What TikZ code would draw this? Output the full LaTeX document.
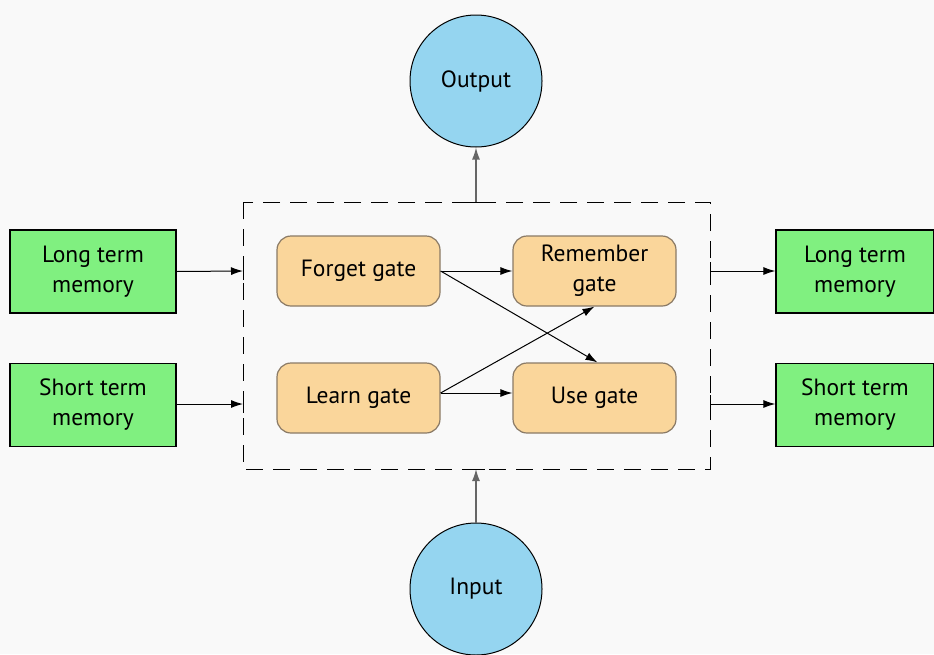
\documentclass[tikz,border=0pt]{standalone}
\usepackage{fontspec}
\setmainfont{PT Sans}
\usetikzlibrary{arrows.meta}
\definecolor{bgc}{HTML}{F9F9F9}
\definecolor{memc}{HTML}{80F080}
\definecolor{ioc}{HTML}{95D5F0}
\definecolor{gatec}{HTML}{FAD69B}
\definecolor{gateb}{HTML}{8A7A66}
\begin{document}
\begin{tikzpicture}[x=1pt,y=-1pt,
  every node/.style={font=\fontsize{23.5}{30}\selectfont, align=center, inner sep=0pt},
  mem/.style={draw=black, line width=1.2pt, fill=memc, minimum height=83pt},
  io/.style={circle, draw=black, line width=1pt, fill=ioc, minimum size=132pt},
  gate/.style={draw=gateb, line width=1.2pt, fill=gatec, rounded corners=14pt, minimum width=163pt, minimum height=70pt},
  arr/.style={-{Latex[length=12pt,width=8pt]}, line width=1pt, black},
  varr/.style={-{Latex[length=12pt,width=8pt]}, line width=1.3pt, black!60},
  tick/.style={line width=0.9pt, black}]
\useasboundingbox (0,0) rectangle (934,654);
\fill[bgc] (0,0) rectangle (934,654);

% lstm cell frame
\draw[dash pattern=on 17pt off 10pt, line width=0.9pt] (243,202) rectangle (710,469);
\coordinate (lin1) at (243,271);
\coordinate (lin2) at (243,404);
\coordinate (rout1) at (710,271);
\coordinate (rout2) at (710,404);
\coordinate (topc) at (476,202);
\coordinate (botc) at (476,469);

% memory boxes
\node[mem, minimum width=166pt] (ltmL) at (93,271.5) {Long term\\memory};
\node[mem, minimum width=166pt] (stmL) at (93,405) {Short term\\memory};
\node[mem, minimum width=158pt] (ltmR) at (855,271.5) {Long term\\memory};
\node[mem, minimum width=158pt] (stmR) at (855,405) {Short term\\memory};

% input / output
\node[io] (out) at (476,81) {Output};
\node[io] (in) at (476,589) {Input};

% gates
\node[gate] (forget) at (358.5,271) {Forget gate};
\node[gate] (learn) at (358.5,398) {Learn gate};
\node[gate] (remember) at (594.5,271) {Remember\\gate};
\node[gate] (use) at (594.5,398) {Use gate};

% connections into and out of the cell
\draw[arr] (ltmL.east) -- (lin1);
\draw[arr] (stmL.east |- lin2) -- (lin2);
\draw[arr] (rout1) -- (ltmR.west |- rout1);
\draw[arr] (rout2) -- (stmR.west |- rout2);
\draw[varr] (topc) -- (out.south);
\draw[varr] (in.north) -- (botc);
\foreach \c in {lin1,lin2,rout1,rout2} \draw[tick] ([yshift=-9pt]\c) -- ([yshift=9pt]\c);
\foreach \c in {topc,botc} \draw[tick] ([xshift=-9pt]\c) -- ([xshift=9pt]\c);

% gate connections
\coordinate (fo) at (forget.east);
\coordinate (lo) at ([yshift=5pt]learn.east);
\draw[arr] (fo) -- (remember.west);
\draw[arr] (lo) -- (use.west |- lo);
\draw[arr] (fo) -- ([xshift=3pt]use.north);
\draw[arr] (lo) -- (remember.south);
\end{tikzpicture}
\end{document}
